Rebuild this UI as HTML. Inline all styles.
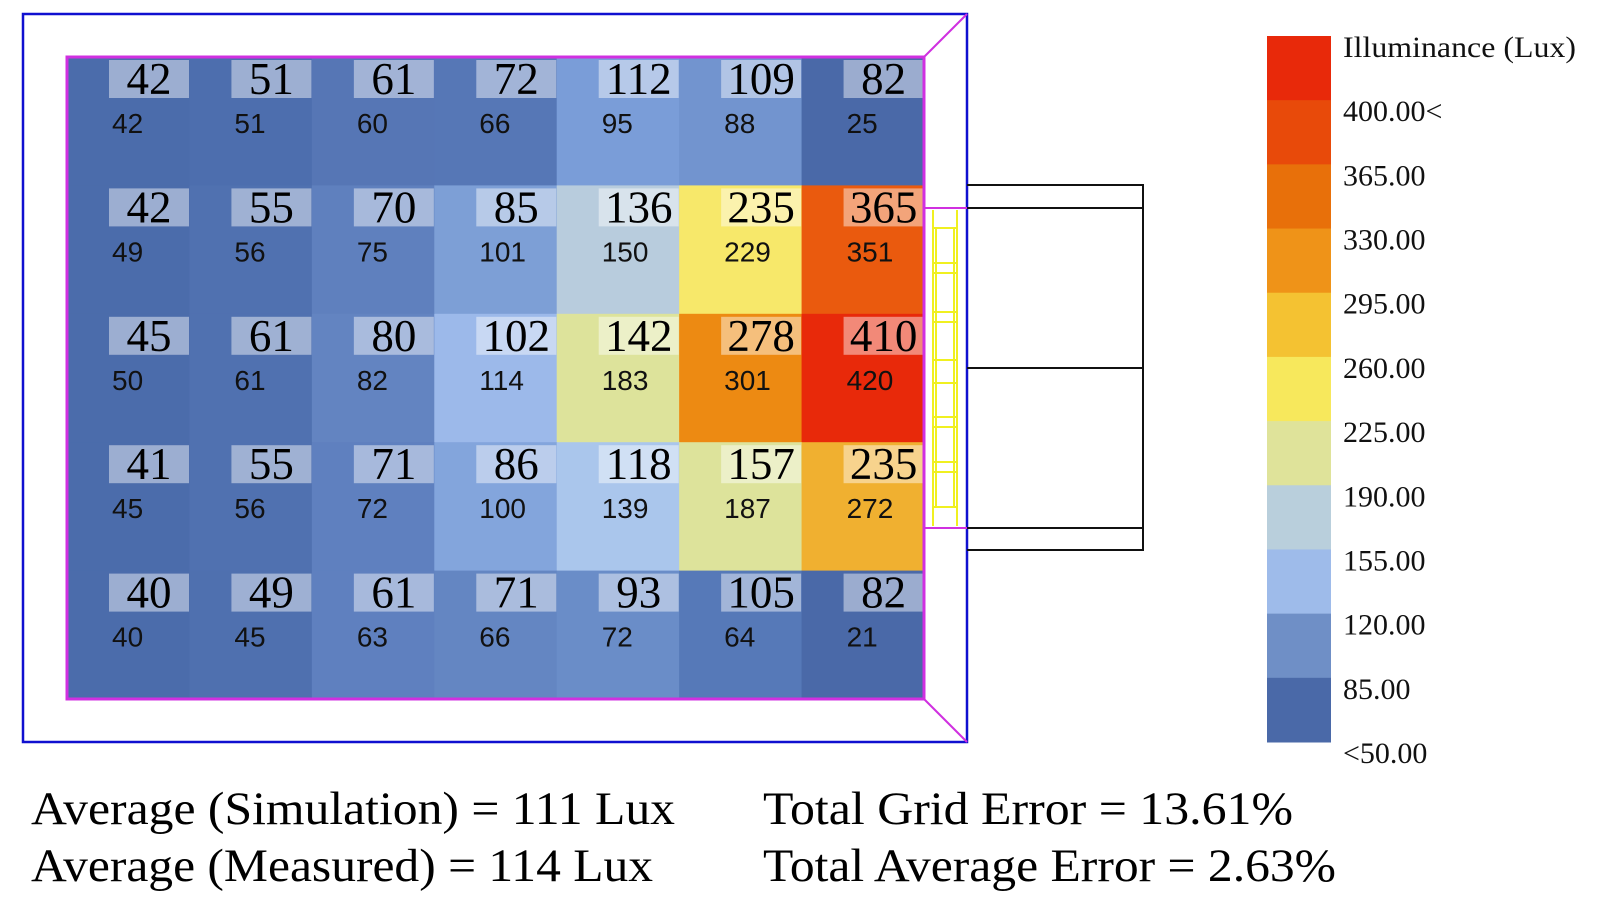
<!DOCTYPE html>
<html><head><meta charset="utf-8"><style>
html,body{margin:0;padding:0;background:#fff;width:1600px;height:900px;overflow:hidden}
svg{display:block}
.big{font-family:"Liberation Serif",serif;font-size:45px;fill:#000}
.sm{font-family:"Liberation Sans",sans-serif;font-size:28px;fill:#111}
.lg{font-family:"Liberation Serif",serif;font-size:30px;fill:#111}
.bt{font-family:"Liberation Serif",serif;font-size:47px;fill:#000}
</style></head><body>
<svg width="1600" height="900" viewBox="0 0 1600 900" xmlns="http://www.w3.org/2000/svg">
<defs><clipPath id="gc"><rect x="67" y="57" width="857" height="642"/></clipPath></defs>
<g id="cells" clip-path="url(#gc)"></g>
<rect x="67" y="57" width="857" height="642" fill="none" stroke="#d030e0" stroke-width="3"/>
<rect x="23" y="14" width="944" height="728" fill="none" stroke="#1010d0" stroke-width="2.5"/>
<line x1="924" y1="57" x2="967" y2="14" stroke="#d030e0" stroke-width="2"/>
<line x1="924" y1="699" x2="967" y2="742" stroke="#d030e0" stroke-width="2"/>
<line x1="924" y1="208" x2="967" y2="208" stroke="#d030e0" stroke-width="2"/>
<line x1="924" y1="528" x2="967" y2="528" stroke="#d030e0" stroke-width="2"/>
<g stroke="#f0f020" stroke-width="2" fill="none">
<line x1="933" y1="210" x2="933" y2="526"/><line x1="957" y1="210" x2="957" y2="526"/>
<line x1="936" y1="228" x2="936" y2="507"/><line x1="954" y1="228" x2="954" y2="507"/>
<line x1="933" y1="228" x2="957" y2="228"/><line x1="933" y1="263" x2="957" y2="263"/>
<line x1="933" y1="273" x2="957" y2="273"/><line x1="933" y1="312" x2="957" y2="312"/>
<line x1="933" y1="322" x2="957" y2="322"/><line x1="933" y1="360" x2="957" y2="360"/>
<line x1="933" y1="383" x2="957" y2="383"/><line x1="933" y1="417" x2="957" y2="417"/>
<line x1="933" y1="427" x2="957" y2="427"/><line x1="933" y1="462" x2="957" y2="462"/>
<line x1="933" y1="472" x2="957" y2="472"/><line x1="933" y1="507" x2="957" y2="507"/>
</g>
<g stroke="#111" stroke-width="2" fill="none">
<polyline points="967,185 1143,185 1143,550 967,550"/>
<line x1="967" y1="208" x2="1143" y2="208"/>
<line x1="967" y1="368" x2="1143" y2="368"/>
<line x1="967" y1="528" x2="1143" y2="528"/>
</g>
<g id="bar"></g>
<text class="lg" x="1343" y="57" textLength="233" lengthAdjust="spacingAndGlyphs">Illuminance (Lux)</text>
<g id="lbl"></g>
<text class="bt" x="31" y="824" textLength="644" lengthAdjust="spacingAndGlyphs">Average (Simulation) = 111 Lux</text>
<text class="bt" x="31" y="881" textLength="622" lengthAdjust="spacingAndGlyphs">Average (Measured) = 114 Lux</text>
<text class="bt" x="763" y="824" textLength="530" lengthAdjust="spacingAndGlyphs">Total Grid Error = 13.61%</text>
<text class="bt" x="763" y="881" textLength="573" lengthAdjust="spacingAndGlyphs">Total Average Error = 2.63%</text>
</svg>
<script>
var NS="http://www.w3.org/2000/svg";
function el(p,t,a,txt){var e=document.createElementNS(NS,t);for(var k in a)e.setAttribute(k,a[k]);if(txt!=null)e.textContent=txt;p.appendChild(e);return e;}
var cols=[["#4b6cab","#4d6eae","#5676b5","#5677b6","#7a9dd8","#7294cf","#4a69a8"],
["#4b6cab","#5071b0","#5f80be","#7d9fd6","#b8ccdd","#f7e86a","#ea5a0e"],
["#4b6cab","#5071b0","#6384c1","#9cb9ea","#dde39b","#ed8a12","#e8290a"],
["#4b6cab","#5071b0","#5f80bf","#83a5dc","#aac6ec","#dde39b","#f0b030"],
["#4b6cab","#4f70af","#5f80bf","#6486c2","#6a8dc8","#5679b8","#4a69a8"]];
var big=[[42,51,61,72,112,109,82],[42,55,70,85,136,235,365],[45,61,80,102,142,278,410],[41,55,71,86,118,157,235],[40,49,61,71,93,105,82]];
var sm=[[42,51,60,66,95,88,25],[49,56,75,101,150,229,351],[50,61,82,114,183,301,420],[45,56,72,100,139,187,272],[40,45,63,66,72,64,21]];
var g=document.getElementById("cells");
var cw=857/7,rh=642/5;
for(var r=0;r<5;r++)for(var c=0;c<7;c++){
 var x=67+c*cw,y=57+r*rh;
 el(g,"rect",{x:x,y:y,width:cw+0.5,height:rh+0.5,fill:cols[r][c]});
 el(g,"rect",{x:x+42,y:y+3,width:80,height:38,fill:"rgba(255,255,255,0.45)"});
 el(g,"text",{"class":"big",x:x+82,y:y+37,"text-anchor":"middle"},big[r][c]);
 el(g,"text",{"class":"sm",x:x+45,y:y+76},sm[r][c]);
}
var bc=["#e8290a","#e84a0a","#e8700a","#ef9318","#f4c232","#f7e85c","#dfe39a","#b9cfdc","#9ebbea","#6f8fc6","#4a69a8"];
var b=document.getElementById("bar"),bh=706/11;
for(var i=0;i<11;i++)el(b,"rect",{x:1267,y:36+i*bh,width:64,height:bh+0.5,fill:bc[i]});
var L=["400.00<","365.00","330.00","295.00","260.00","225.00","190.00","155.00","120.00","85.00","<50.00"];
var lg=document.getElementById("lbl");
for(var i=0;i<11;i++)el(lg,"text",{"class":"lg",x:1343,y:36+(i+1)*bh+21},L[i]);
</script>
</body></html>
